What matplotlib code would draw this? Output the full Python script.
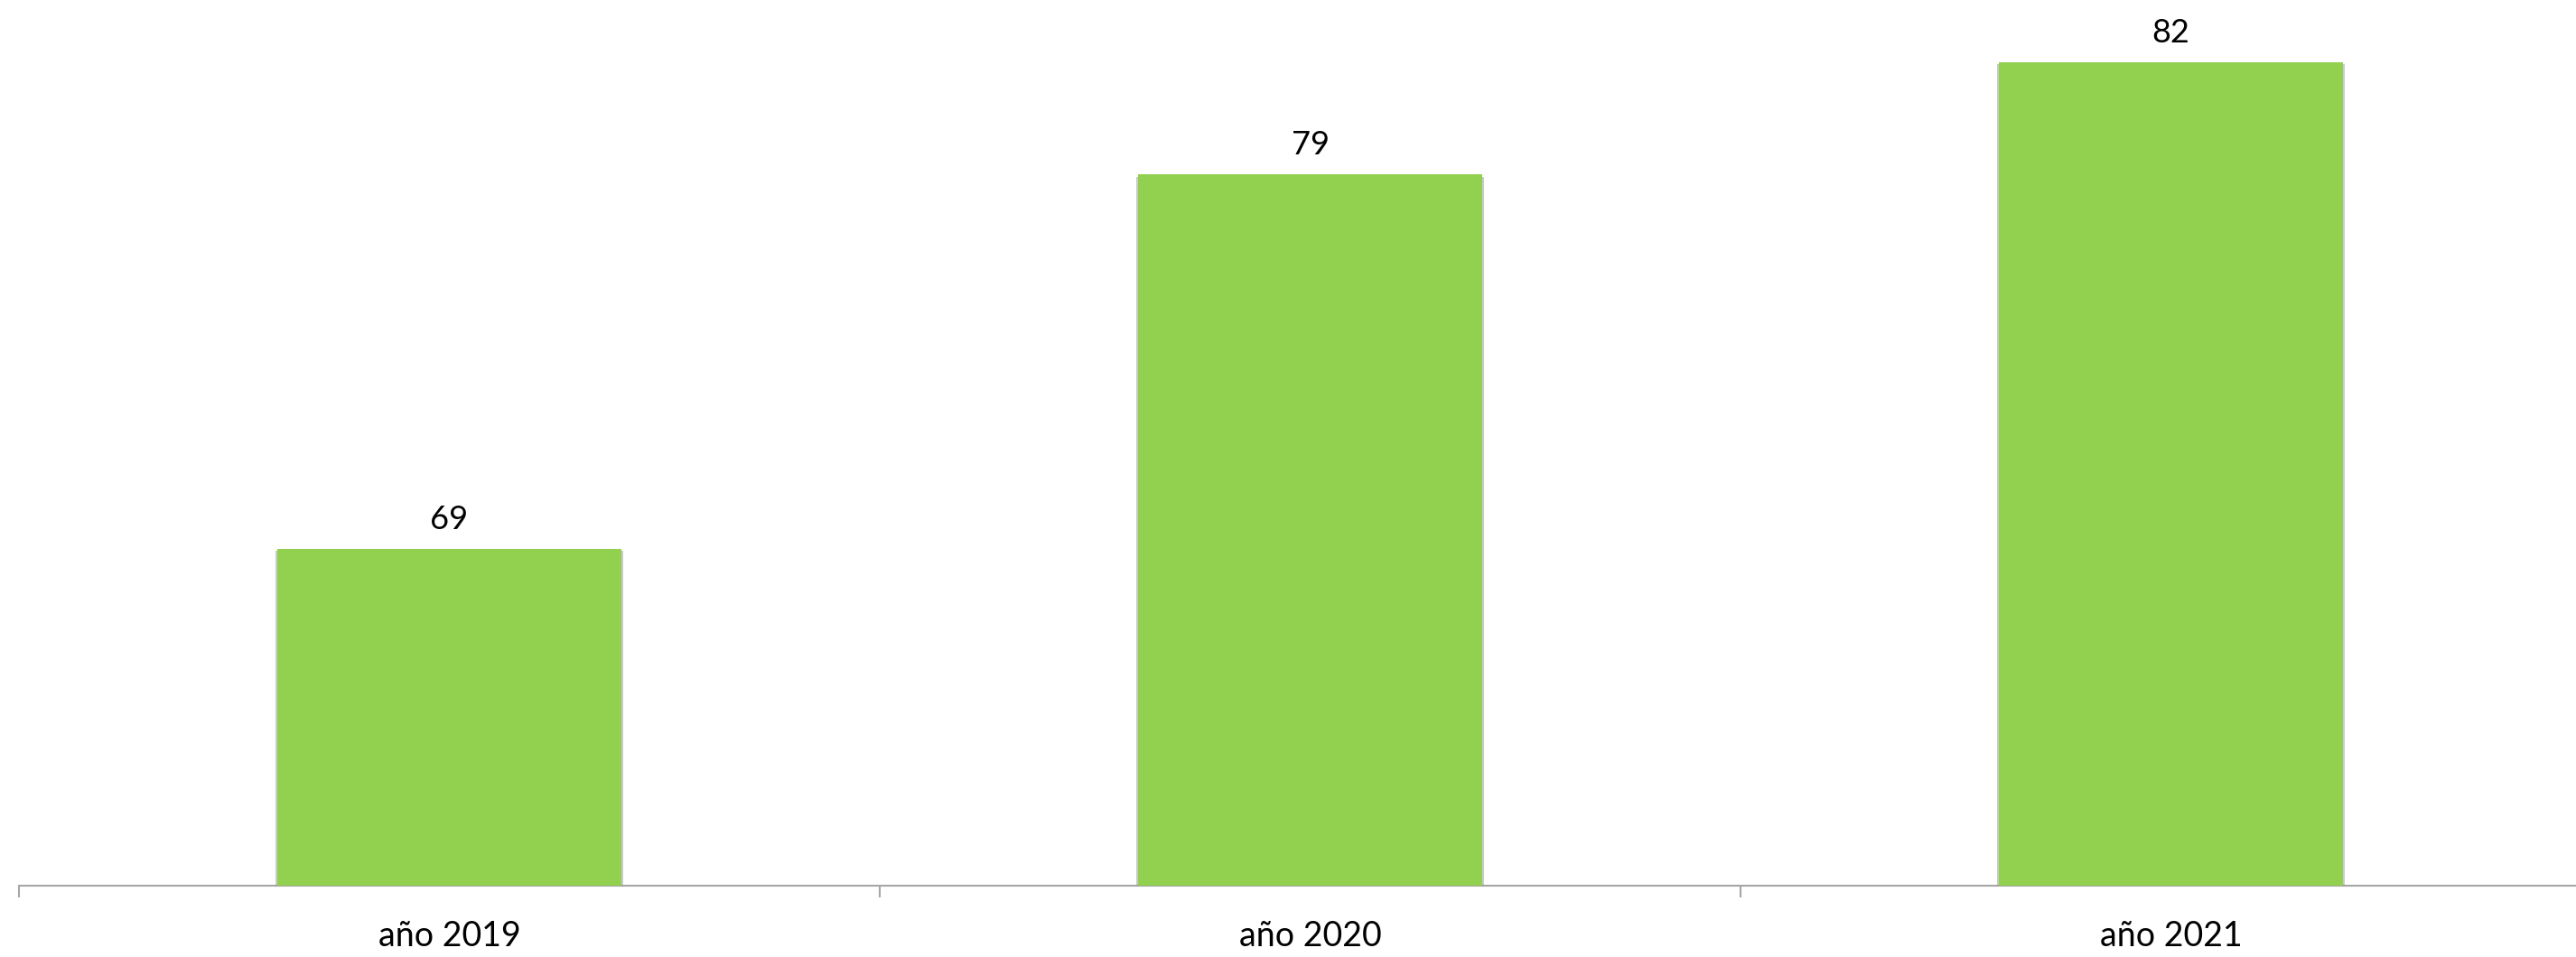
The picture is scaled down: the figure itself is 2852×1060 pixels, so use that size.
import numpy as np
import matplotlib
matplotlib.use("Agg")
import matplotlib.pyplot as plt
import matplotlib.patheffects as pe

# Chart data
categories = ["año 2019", "año 2020", "año 2021"]
values = [69, 79, 82]

plt.rcParams['font.family'] = ['Lato', 'DejaVu Sans']

W, H = 2852, 1060
fig = plt.figure(figsize=(W / 100, H / 100), dpi=100)
# axes run past the right edge of the picture, like the original crop
ax = fig.add_axes([21 / W, (H - 981) / H, 2859 / W, 981 / H])

x = np.arange(len(categories))
bars = ax.bar(x, values, width=0.40, color="#92D050", zorder=3)
for b in bars:
    b.set_path_effects([pe.SimplePatchShadow(offset=(1.5, -1.5), shadow_rgbFace="#8a8a8a", alpha=0.45),
                        pe.SimplePatchShadow(offset=(-1.5, -1.5), shadow_rgbFace="#8a8a8a", alpha=0.45),
                        pe.Normal()])

# Value labels above bars
for xi, v in zip(x, values):
    ax.annotate(str(v), (xi, v), xytext=(0, 16), textcoords="offset points",
                ha="center", va="baseline", fontsize=26, color="black")

ax.set_xlim(-0.5, len(categories) - 0.5)
ax.set_ylim(60, 60 + 981 / 41.45)

# major ticks at category boundaries, labels on minor ticks at centres
ax.set_xticks(np.arange(len(categories) + 1) - 0.5)
ax.set_xticklabels([])
ax.set_xticks(x, minor=True)
ax.set_xticklabels(categories, minor=True, fontsize=27)
ax.tick_params(axis="x", which="major", length=9, width=1.5, color="#A6A6A6", direction="out")
ax.tick_params(axis="x", which="minor", length=0, pad=27)
ax.set_yticks([])

for s in ["top", "right", "left"]:
    ax.spines[s].set_visible(False)
ax.spines["bottom"].set_color("#A6A6A6")
ax.spines["bottom"].set_linewidth(1.5)

fig.savefig("out.png", dpi=100)
